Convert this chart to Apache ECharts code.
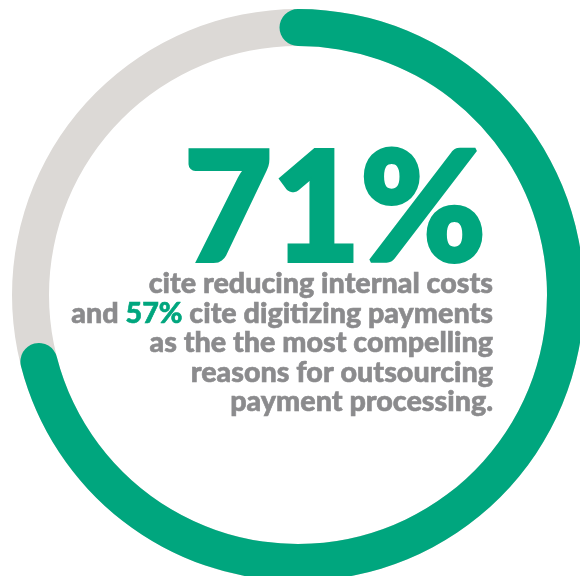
<!DOCTYPE html>
<html>
<head>
<meta charset="utf-8">
<script src="https://cdn.jsdelivr.net/npm/echarts@6/dist/echarts.min.js"></script>
<style>html,body{margin:0;padding:0;background:#fff;}#c{width:580px;height:576px;}</style>
</head>
<body>
<div id="c"></div>
<script>
const mainValue = [71];
const secondValue = [57];
const bigLabel = ['71%'];
const textLines = [
  'cite reducing internal costs',
  'and {g|57%} cite digitizing payments',
  'as the the most compelling',
  'reasons for outsourcing',
  'payment processing.'
];

const GREEN = '#00a67e';
const GREY = '#dcd9d6';
const TEXT = '#8b8b8d';

const chart = echarts.init(document.getElementById('c'), null, {renderer: 'canvas'});

const lineTop = 284, lineStep = 29.5, rightX = 493;
const textEls = textLines.map((t, i) => ({
  type: 'text',
  x: rightX,
  y: lineTop + i * lineStep,
  style: {
    text: t,
    align: 'right',
    verticalAlign: 'middle',
    fill: TEXT,
    stroke: TEXT,
    lineWidth: 0.6,
    miterLimit: 1,
    font: '900 28.7px Lato',
    rich: { g: { fill: GREEN, stroke: GREEN, lineWidth: 0.6, font: '900 28.7px Lato', color: GREEN } }
  }
}));

chart.setOption({
  animation: false,
  series: [{
    type: 'gauge',
    center: [298, 295],
    radius: 286,
    startAngle: 90,
    endAngle: -270,
    min: 0,
    max: 100,
    pointer: {show: false},
    progress: {show: true, roundCap: true, width: 37, itemStyle: {color: GREEN}},
    axisLine: {lineStyle: {width: 37, color: [[1, GREY]]}},
    axisTick: {show: false},
    splitLine: {show: false},
    axisLabel: {show: false},
    detail: {show: false},
    title: {show: false},
    data: [{value: mainValue[0]}]
  }],
  graphic: [{
    type: 'text',
    x: 184,
    y: 212,
    style: {
      text: bigLabel[0],
      align: 'left',
      verticalAlign: 'middle',
      fill: GREEN,
      stroke: GREEN,
      lineWidth: 4,
      miterLimit: 1,
      font: '900 152px Lato'
    }
  }].concat(textEls)
});
</script>
</body>
</html>
